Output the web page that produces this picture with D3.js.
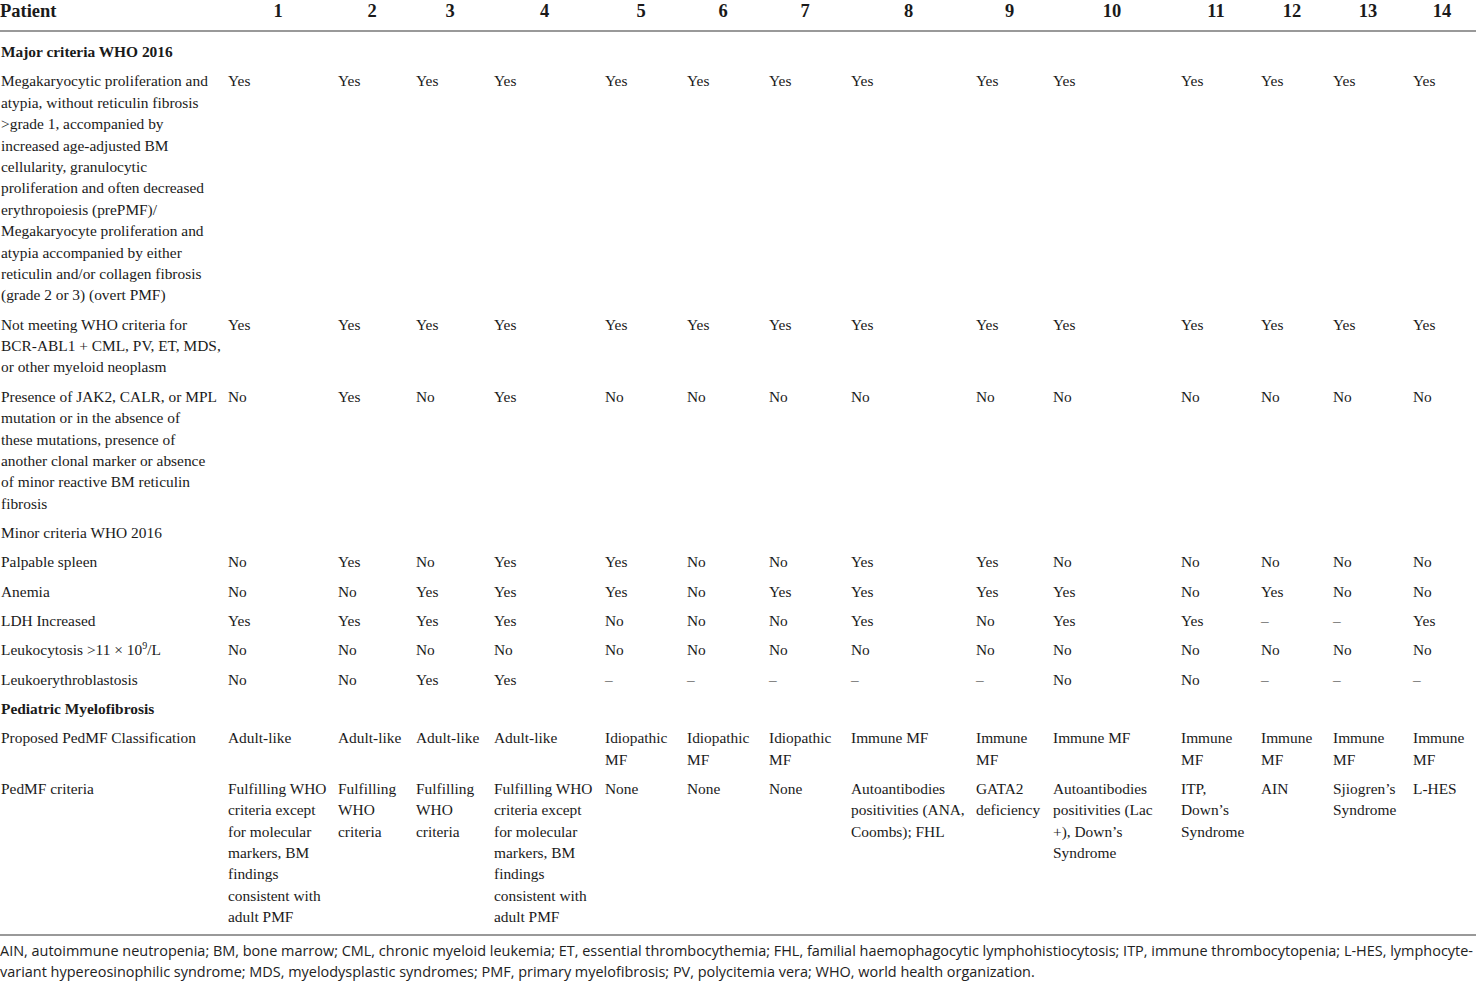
<!DOCTYPE html>
<html>
<head>
<meta charset="utf-8">
<script src="https://cdn.jsdelivr.net/npm/d3@7"></script>
<style>
  html, body { margin: 0; padding: 0; background: #fff; }
  svg { display: block; }
</style>
</head>
<body>
<svg id="chart" width="1476" height="983"></svg>
<script>
// ---------- DATA ----------
const patients = ["1","2","3","4","5","6","7","8","9","10","11","12","13","14"];

const megakaryocyticLabel = "Megakaryocytic proliferation and\natypia, without reticulin fibrosis\n>grade 1, accompanied by\nincreased age-adjusted BM\ncellularity, granulocytic\nproliferation and often decreased\nerythropoiesis (prePMF)/\nMegakaryocyte proliferation and\natypia accompanied by either\nreticulin and/or collagen fibrosis\n(grade 2 or 3) (overt PMF)";
const megakaryocytic = ["Yes","Yes","Yes","Yes","Yes","Yes","Yes","Yes","Yes","Yes","Yes","Yes","Yes","Yes"];

const notMeetingLabel = "Not meeting WHO criteria for\nBCR-ABL1 + CML, PV, ET, MDS,\nor other myeloid neoplasm";
const notMeeting = ["Yes","Yes","Yes","Yes","Yes","Yes","Yes","Yes","Yes","Yes","Yes","Yes","Yes","Yes"];

const presenceLabel = "Presence of JAK2, CALR, or MPL\nmutation or in the absence of\nthese mutations, presence of\nanother clonal marker or absence\nof minor reactive BM reticulin\nfibrosis";
const presence = ["No","Yes","No","Yes","No","No","No","No","No","No","No","No","No","No"];

const palpableSpleen = ["No","Yes","No","Yes","Yes","No","No","Yes","Yes","No","No","No","No","No"];
const anemia = ["No","No","Yes","Yes","Yes","No","Yes","Yes","Yes","Yes","No","Yes","No","No"];
const ldhIncreased = ["Yes","Yes","Yes","Yes","No","No","No","Yes","No","Yes","Yes","–","–","Yes"];
const leukocytosis = ["No","No","No","No","No","No","No","No","No","No","No","No","No","No"];
const leukoerythroblastosis = ["No","No","Yes","Yes","–","–","–","–","–","No","No","–","–","–"];

const classification = ["Adult-like","Adult-like","Adult-like","Adult-like","Idiopathic\nMF","Idiopathic\nMF","Idiopathic\nMF","Immune MF","Immune\nMF","Immune MF","Immune\nMF","Immune\nMF","Immune\nMF","Immune\nMF"];
const pedmfCriteria = [
  "Fulfilling WHO\ncriteria except\nfor molecular\nmarkers, BM\nfindings\nconsistent with\nadult PMF",
  "Fulfilling\nWHO\ncriteria",
  "Fulfilling\nWHO\ncriteria",
  "Fulfilling WHO\ncriteria except\nfor molecular\nmarkers, BM\nfindings\nconsistent with\nadult PMF",
  "None","None","None",
  "Autoantibodies\npositivities (ANA,\nCoombs); FHL",
  "GATA2\ndeficiency",
  "Autoantibodies\npositivities (Lac\n+), Down’s\nSyndrome",
  "ITP,\nDown’s\nSyndrome",
  "AIN",
  "Sjiogren’s\nSyndrome",
  "L-HES"
];

const footnote = [
  "AIN, autoimmune neutropenia; BM, bone marrow; CML, chronic myeloid leukemia; ET, essential thrombocythemia; FHL, familial haemophagocytic lymphohistiocytosis; ITP, immune thrombocytopenia; L-HES, lymphocyte-",
  "variant hypereosinophilic syndrome; MDS, myelodysplastic syndromes; PMF, primary myelofibrosis; PV, polycitemia vera; WHO, world health organization."
];

// Table rows built from the arrays
const rows = [
  { type: "section", label: "Major criteria WHO 2016", bold: true },
  { type: "row", label: megakaryocyticLabel, values: megakaryocytic },
  { type: "row", label: notMeetingLabel, values: notMeeting },
  { type: "row", label: presenceLabel, values: presence },
  { type: "section", label: "Minor criteria WHO 2016", bold: false },
  { type: "row", label: "Palpable spleen", values: palpableSpleen },
  { type: "row", label: "Anemia", values: anemia },
  { type: "row", label: "LDH Increased", values: ldhIncreased },
  { type: "row", label: "Leukocytosis >11 × 10|9|/L", values: leukocytosis, sup: true },
  { type: "row", label: "Leukoerythroblastosis", values: leukoerythroblastosis },
  { type: "section", label: "Pediatric Myelofibrosis", bold: true },
  { type: "row", label: "Proposed PedMF Classification", values: classification },
  { type: "row", label: "PedMF criteria", values: pedmfCriteria }
];

// ---------- LAYOUT ----------
const W = 1476;
const serif = "'Liberation Serif', 'Times New Roman', serif";
const sans = "'Open Sans', 'Noto Sans', sans-serif";
const bodySize = 15.4;
const lineH = 21.4;
const rowGap = 29.3;
const colEdges = [223, 333, 411, 489, 600, 682, 764, 846, 971, 1048, 1176, 1256, 1328, 1408, 1476];
const pad = 5;

const colLeft = p => colEdges[patients.indexOf(p)];
const colCenter = p => (colEdges[patients.indexOf(p)] + colEdges[patients.indexOf(p) + 1]) / 2;

const svg = d3.select("#chart");

// header
const headerBase = 16.5;
const headerSize = 18.5;
svg.append("text")
  .attr("x", 0).attr("y", headerBase)
  .attr("font-family", serif).attr("font-size", headerSize).attr("font-weight", "bold")
  .attr("fill", "#1a1a1a")
  .text("Patient");

svg.selectAll("text.ph").data(patients).join("text")
  .attr("class", "ph")
  .attr("x", d => colCenter(d)).attr("y", headerBase)
  .attr("text-anchor", "middle")
  .attr("font-family", serif).attr("font-size", headerSize).attr("font-weight", "bold")
  .attr("fill", "#1a1a1a")
  .text(d => d);

svg.append("line").attr("x1", 0).attr("x2", W).attr("y1", 31).attr("y2", 31)
  .attr("stroke", "#777").attr("stroke-width", 1.6);

// compute row baselines
let base = 57;
let prevLines = 1;
rows.forEach((r, i) => {
  if (i > 0) base = base + (prevLines - 1) * lineH + rowGap;
  r.y = base;
  const labLines = r.label.split("\n").length;
  const valLines = r.values ? d3.max(r.values, v => v.split("\n").length) : 1;
  r.lines = Math.max(labLines, valLines);
  prevLines = r.lines;
});

function multiline(sel, str, xPos, y0) {
  str.split("\n").forEach((ln, k) => {
    sel.append("tspan").attr("x", xPos).attr("y", y0 + k * lineH).text(ln);
  });
}

const g = svg.append("g").attr("font-family", serif).attr("font-size", bodySize).attr("fill", "#1a1a1a");

rows.forEach(r => {
  const lab = g.append("text")
    .attr("font-weight", r.bold ? "bold" : null);
  if (r.sup) {
    const parts = r.label.split("|");
    lab.attr("x", 1).attr("y", r.y);
    lab.append("tspan").text(parts[0]);
    lab.append("tspan").attr("font-size", 10).attr("dy", -6).text(parts[1]);
    lab.append("tspan").attr("dy", 6).text(parts[2]);
  } else {
    multiline(lab, r.label, 1, r.y);
  }
  if (r.values) {
    patients.forEach((p, j) => {
      const t = g.append("text");
      multiline(t, r.values[j], colLeft(p) + pad, r.y);
    });
  }
});

// bottom rule
svg.append("line").attr("x1", 0).attr("x2", W).attr("y1", 935).attr("y2", 935)
  .attr("stroke", "#777").attr("stroke-width", 1.6);

// footnote: size chosen so the first line spans the table width
const fn = svg.selectAll("text.fn").data(footnote).join("text")
  .attr("class", "fn")
  .attr("x", 0).attr("y", (d, i) => 956 + i * 21)
  .attr("font-family", sans).attr("font-size", 12.6).attr("fill", "#222")
  .text(d => d);
const w0 = fn.nodes()[0].getComputedTextLength();
const fs = Math.min(12.6 * 1473 / w0, 15);
fn.attr("font-size", fs);
</script>
</body>
</html>
